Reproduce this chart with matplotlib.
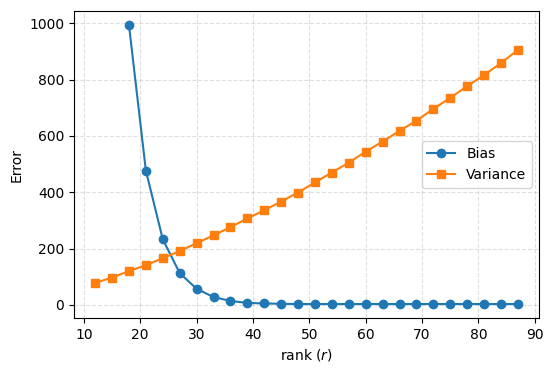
import matplotlib
matplotlib.use("Agg")
import matplotlib.pyplot as plt

# rank values
ranks_bias = [18, 21, 24, 27, 30, 33, 36, 39, 42, 45, 48, 51, 54, 57, 60,
              63, 66, 69, 72, 75, 78, 81, 84, 87]
bias = [994, 477, 233, 113, 57, 28, 14, 7, 5, 4, 3, 3, 3, 3, 3,
        3, 3, 3, 3, 3, 3, 3, 3, 3]

ranks_var = [12, 15] + ranks_bias
variance = [78, 97, 120, 141, 166, 191, 219, 247, 276, 307, 336, 367, 399,
            435, 470, 505, 544, 580, 618, 654, 696, 735, 777, 816, 859, 905]

fig = plt.figure(figsize=(5.53, 3.73), dpi=100)
ax = fig.add_axes([74 / 553, 55 / 373, 465 / 553, 307 / 373])

ax.plot(ranks_bias, bias, marker="o", label="Bias")
ax.plot(ranks_var, variance, marker="s", label="Variance")

ax.set_xlabel("rank ($r$)")
ax.set_ylabel("Error")
ax.set_xticks(range(10, 91, 10))
ax.grid(True, linestyle="--", alpha=0.4)
ax.legend(loc="center right")

fig.savefig("out.png", dpi=100)
